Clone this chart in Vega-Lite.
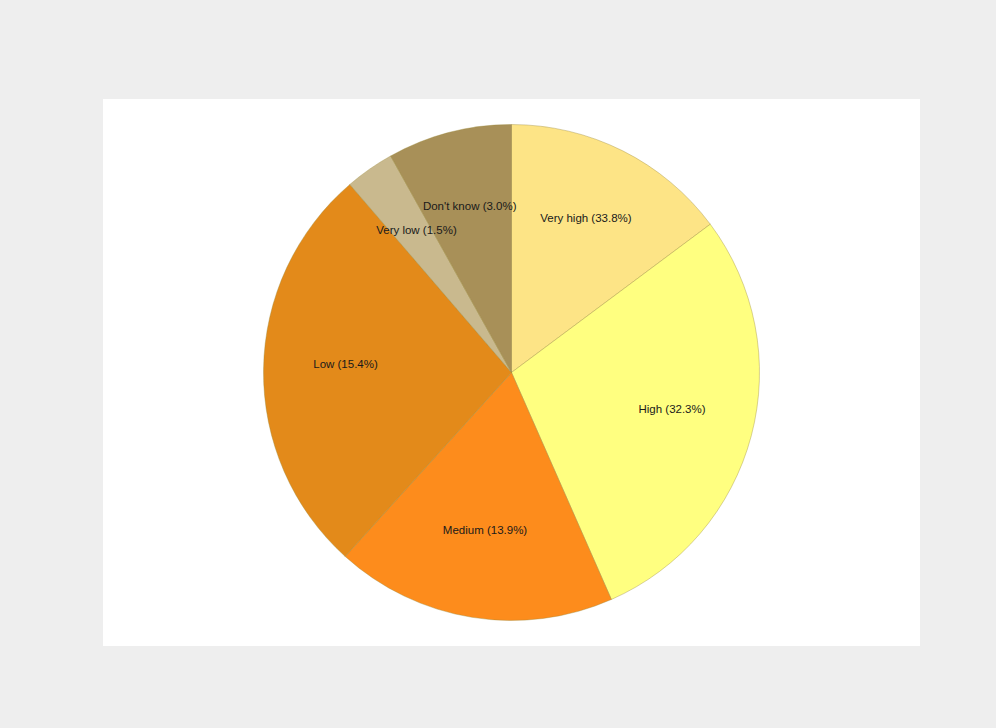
{
  "$schema": "https://vega.github.io/schema/vega-lite/v6.json",
  "width": 817,
  "height": 547,
  "autosize": {"type": "none"},
  "padding": {"left": 103, "top": 99, "right": 76, "bottom": 82},
  "background": "#eeeeee",
  "view": {"fill": "#ffffff", "stroke": "#ffffff", "strokeWidth": 0},
  "data": {
    "values": [
      {"category": "Very high", "rank": 1, "share": 14.8, "label": "Very high (33.8%)"},
      {"category": "High", "rank": 2, "share": 28.6, "label": "High (32.3%)"},
      {"category": "Medium", "rank": 3, "share": 18.3, "label": "Medium (13.9%)"},
      {"category": "Low", "rank": 4, "share": 27.0, "label": "Low (15.4%)"},
      {"category": "Very low", "rank": 5, "share": 3.2, "label": "Very low (1.5%)"},
      {"category": "Don't know", "rank": 6, "share": 8.1, "label": "Don't know (3.0%)"}
    ]
  },
  "encoding": {
    "theta": {"field": "share", "type": "quantitative", "stack": true},
    "order": {"field": "rank", "type": "quantitative"}
  },
  "layer": [
    {
      "mark": {"type": "arc", "radius": 248, "stroke": "#9c8a3a", "strokeWidth": 0.7, "strokeOpacity": 0.55},
      "encoding": {
        "color": {
          "field": "category",
          "type": "nominal",
          "scale": {
            "domain": ["Very high", "High", "Medium", "Low", "Very low", "Don't know"],
            "range": ["#fde486", "#ffff80", "#fd8c1c", "#e38a1a", "#c9b98e", "#a89058"]
          },
          "legend": null
        }
      }
    },
    {
      "mark": {"type": "text", "radius": 166, "dy": -5, "font": "Liberation Sans", "fontSize": 11.5, "color": "#1a1a1a"},
      "encoding": {
        "text": {"field": "label", "type": "nominal"}
      }
    }
  ]
}
